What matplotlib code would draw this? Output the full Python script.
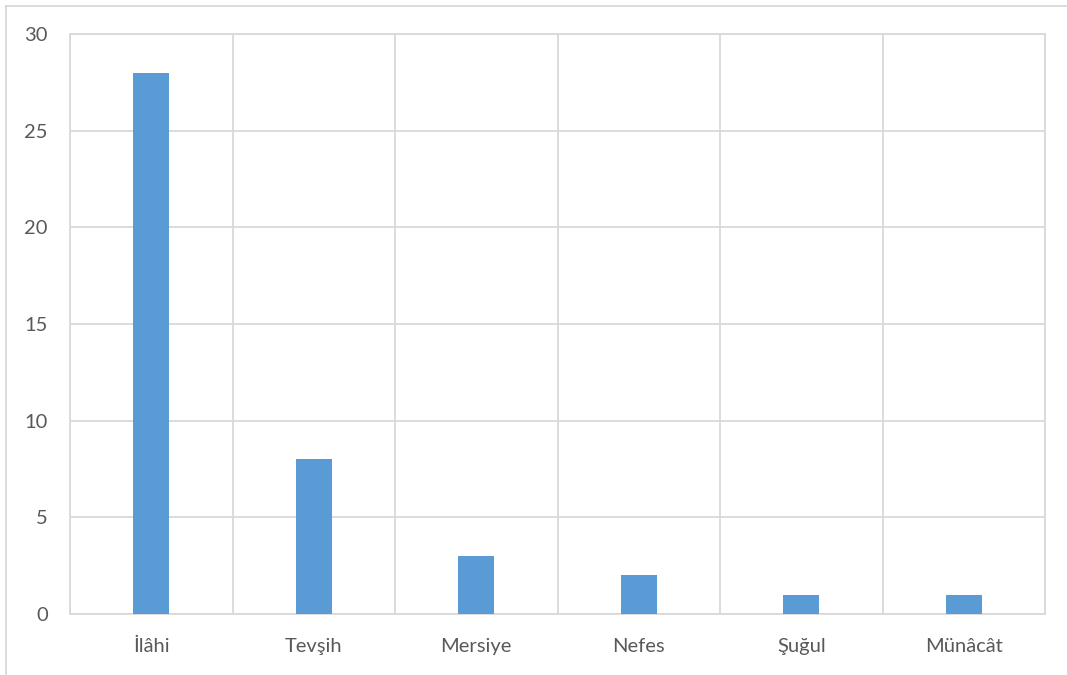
import matplotlib.pyplot as plt
from matplotlib.lines import Line2D
import numpy as np

categories = ['İlâhi', 'Tevşih', 'Mersiye', 'Nefes', 'Şuğul', 'Münâcât']
counts = [28, 8, 3, 2, 1, 1]
yticks = [0, 5, 10, 15, 20, 25, 30]

plt.rcParams['font.family'] = ['Lato', 'DejaVu Sans']

fig = plt.figure(figsize=(10.67, 6.75), dpi=100)
ax = fig.add_axes([70 / 1067, 1 - 614 / 675, 975 / 1067, 580 / 675])

x = np.arange(len(categories))
ax.bar(x, counts, width=0.22, color='#5B9BD5', zorder=3)

ax.set_xlim(-0.5, len(categories) - 0.5)
ax.set_ylim(0, 30)
ax.set_yticks(yticks)
ax.set_xticks(x)
ax.set_xticklabels(categories)

# category separators like Excel
ax.set_xticks(np.arange(-0.5, len(categories), 1), minor=True)
ax.grid(True, which='minor', axis='x', color='#D9D9D9', linewidth=1.3, zorder=0)
ax.grid(True, which='major', axis='y', color='#D9D9D9', linewidth=1.3, zorder=0)

for s in ax.spines.values():
    s.set_color('#D9D9D9')
    s.set_linewidth(1.3)

ax.tick_params(axis='both', which='both', length=0, labelsize=14.5, colors='#595959')
ax.tick_params(axis='y', pad=16)
ax.tick_params(axis='x', pad=17)

# outer chart frame (only left and top visible)
fig.add_artist(Line2D([5.5 / 1067, 5.5 / 1067], [0, 1 - 5.5 / 675], color='#D9D9D9', lw=1.3))
fig.add_artist(Line2D([5.5 / 1067, 1], [1 - 5.5 / 675, 1 - 5.5 / 675], color='#D9D9D9', lw=1.3))

fig.savefig('out.png', dpi=100)
